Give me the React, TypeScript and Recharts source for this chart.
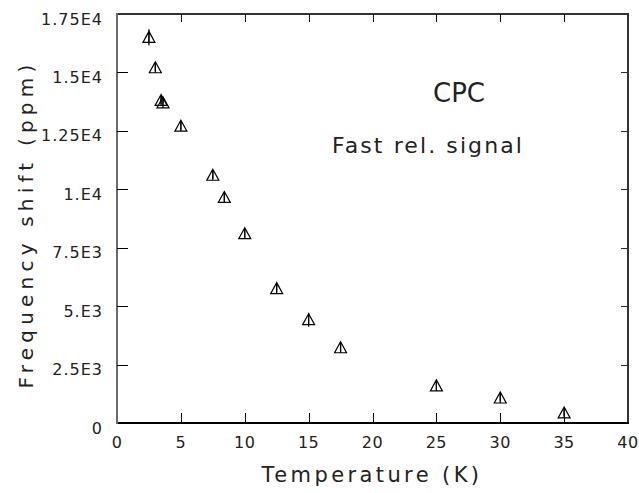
import React from 'react';
import { ScatterChart, Scatter, XAxis, YAxis, ErrorBar } from 'recharts';

// temperature (K)
const temperatures = [2.5, 3.0, 3.45, 3.6, 5.0, 7.5, 8.4, 10.0, 12.5, 15.0, 17.5, 25.0, 30.0, 35.0];
// frequency shift (ppm)
const shifts = [16500, 15200, 13800, 13700, 12700, 10600, 9650, 8100, 5750, 4420, 3220, 1590, 1070, 430];
// error on shift (ppm)
const errors = [350, 150, 150, 150, 150, 150, 150, 150, 150, 300, 150, 150, 150, 150];

const xTicks = [0, 5, 10, 15, 20, 25, 30, 35, 40];
const yTicks = [0, 2500, 5000, 7500, 10000, 12500, 15000, 17500];
const yTickLabels = ['0', '2.5E3', '5.E3', '7.5E3', '1.E4', '1.25E4', '1.5E4', '1.75E4'];

const data = temperatures.map((t, i) => ({ t, f: shifts[i], err: errors[i] }));

const X_MAX = 40;
const Y_MAX = 17500;

// plot box in pixels
const W = 639;
const H = 493;
const LEFT = 117;
const RIGHT = 628;
const TOP = 14;
const BOTTOM = 423;

const FONT = '"DejaVu Sans", sans-serif';
const INK = '#222';

const XTick = ({ x, y, payload }: any) => (
  <text x={x} y={y} dy={19} textAnchor="middle" dominantBaseline="central"
    fontFamily={FONT} fontSize={16} letterSpacing={0.5} fill={INK}>
    {payload.value}
  </text>
);

const YTick = ({ x, y, payload }: any) => {
  const idx = yTicks.indexOf(payload.value);
  return (
    <text x={x} y={y} dx={-14} dy={5} textAnchor="end" dominantBaseline="central"
      fontFamily={FONT} fontSize={16} letterSpacing={1} fill={INK}>
      {idx >= 0 ? yTickLabels[idx] : payload.value}
    </text>
  );
};

// open triangle with a vertical line through it
const Triangle = ({ cx, cy }: any) => (
  <path
    d={`M${cx},${cy - 6} L${cx - 6},${cy + 5} L${cx + 6},${cy + 5} Z M${cx},${cy - 6} L${cx},${cy + 5}`}
    stroke="#000" strokeWidth={1.2} fill="none"
  />
);

const px = (v: number) => Math.round(LEFT + (v / X_MAX) * (RIGHT - LEFT));
const py = (v: number) => Math.round(BOTTOM - (v / Y_MAX) * (BOTTOM - TOP));

const innerX = xTicks.slice(1, -1);
const innerY = yTicks.slice(1, -1);

const bar = (left: number, top: number, width: number, height: number, color: string, key?: string) => (
  <div key={key} style={{ position: 'absolute', left, top, width, height, background: color }} />
);

const App: React.FC = () => {
  return (
    <div style={{ position: 'absolute', left: 0, top: 0, width: W, height: H, background: '#fff' }}>
      <ScatterChart width={W} height={H} margin={{ top: TOP, right: W - RIGHT, left: 0, bottom: 0 }}>
        <XAxis
          type="number"
          dataKey="t"
          domain={[0, X_MAX]}
          ticks={xTicks}
          height={H - BOTTOM}
          tickSize={0}
          tickMargin={0}
          tick={<XTick />}
          axisLine={false}
          tickLine={false}
        />
        <YAxis
          type="number"
          dataKey="f"
          domain={[0, Y_MAX]}
          ticks={yTicks}
          width={LEFT}
          tickSize={0}
          tickMargin={0}
          tick={<YTick />}
          axisLine={false}
          tickLine={false}
        />
        <Scatter data={data} shape={<Triangle />} isAnimationActive={false}>
          <ErrorBar dataKey="err" direction="y" width={0} stroke="#000" strokeWidth={1.2} isAnimationActive={false} />
        </Scatter>
      </ScatterChart>

      {/* frame and inward ticks as html boxes */}
      <div style={{ position: 'absolute', left: 0, top: 0, width: W, height: H, pointerEvents: 'none' }}>
        {bar(LEFT, TOP - 1, RIGHT - LEFT + 1, 2, '#333')}
        {bar(RIGHT - 1, TOP - 1, 2, BOTTOM - TOP + 2, '#333')}
        {bar(LEFT, BOTTOM - 1, RIGHT - LEFT + 1, 2, '#000')}
        {bar(LEFT - 1, TOP - 1, 2, BOTTOM - TOP + 2, '#6a6a6a')}
        {innerX.map((v) => bar(px(v), BOTTOM - 10, 1, 10, '#000', `b${v}`))}
        {innerX.map((v) => bar(px(v), TOP, 1, 8, '#000', `t${v}`))}
        {innerY.map((v) => bar(LEFT, py(v), 11, 1, '#000', `l${v}`))}
        {innerY.map((v) => bar(RIGHT - 7, py(v), 7, 1, '#333', `r${v}`))}
      </div>

      <svg width={W} height={H} style={{ position: 'absolute', left: 0, top: 0, pointerEvents: 'none' }}>
        <text x={372} y={475} textAnchor="middle" dominantBaseline="central"
          fontFamily={FONT} fontSize={21} letterSpacing={3.4} fill={INK}>
          Temperature (K)
        </text>
        <text x={0} y={0} transform="translate(26,224) rotate(-90)" textAnchor="middle" dominantBaseline="central"
          fontFamily={FONT} fontSize={20} letterSpacing={5.2} fill={INK}>
          Frequency shift (ppm)
        </text>
        <text x={459} y={93} textAnchor="middle" dominantBaseline="central"
          fontFamily={FONT} fontSize={26} fill={INK}>
          CPC
        </text>
        <text x={428} y={145} textAnchor="middle" dominantBaseline="central"
          fontFamily={FONT} fontSize={22} letterSpacing={2.1} fill={INK}>
          Fast rel. signal
        </text>
      </svg>
    </div>
  );
};

export default App;
